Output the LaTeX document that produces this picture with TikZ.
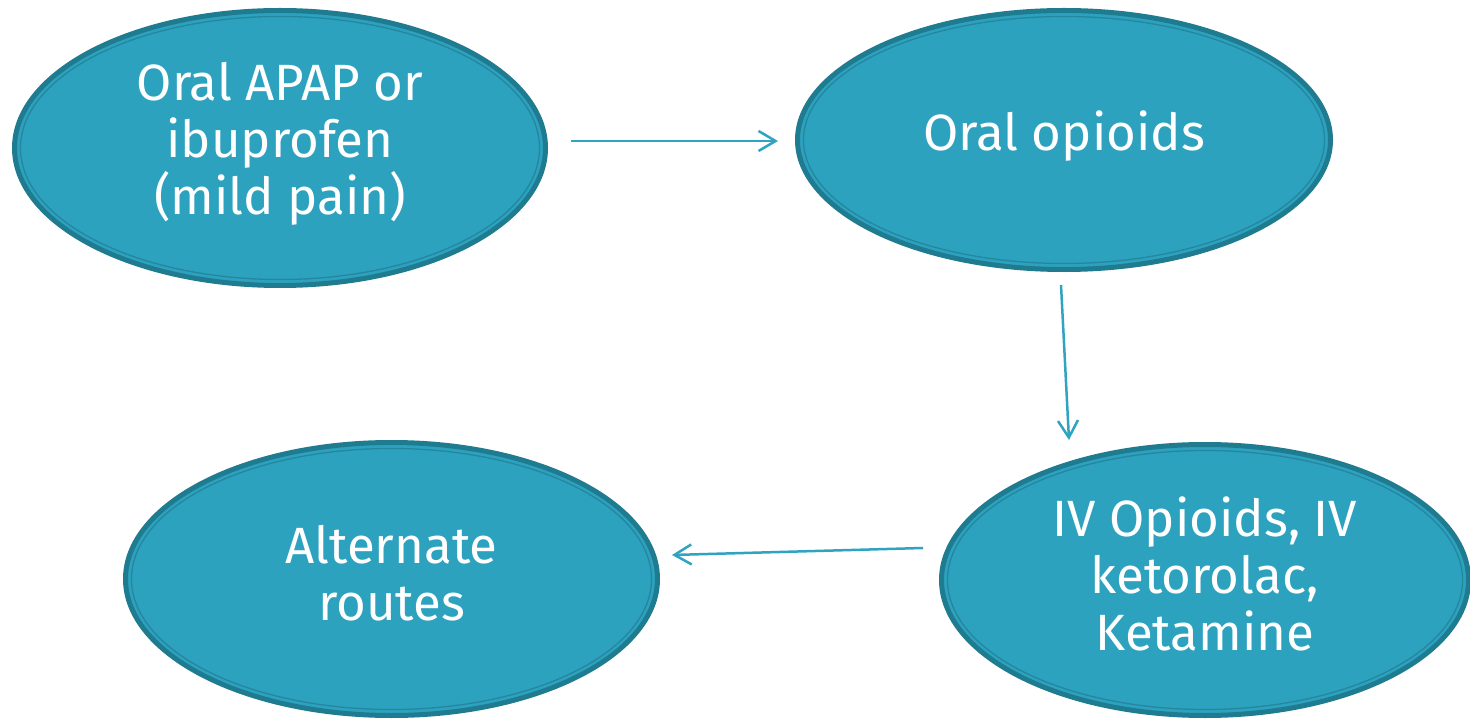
\documentclass[tikz,border=0pt]{standalone}
\usepackage{fontspec}
\setmainfont{Fira Sans}
\usetikzlibrary{shapes.geometric,arrows.meta}
\definecolor{ovalfill}{HTML}{2DA2BF}
\definecolor{ovaledge}{HTML}{1F7B90}
\definecolor{ovalinner}{HTML}{24869F}
\definecolor{arrowcol}{HTML}{2FA3C0}
\tikzset{
  oval/.style={ellipse, draw=ovaledge, line width=5pt, fill=ovalfill, inner sep=0pt},
  ovaltext/.style={text=white, align=center, inner sep=0pt, font=\fontsize{51}{57}\selectfont},
  innerring/.style={draw=ovalinner, line width=1.3pt},
  flow/.style={draw=arrowcol, line width=2.5pt, -{Straight Barb[length=17pt,width=20pt,line width=2.5pt]}}
}
\begin{document}
\begin{tikzpicture}[x=1pt,y=1pt]
\useasboundingbox (0,0) rectangle (1470,721);
% E1
\node[oval, minimum width=531pt, minimum height=275pt] (e1) at (280,573) {};
\draw[innerring] (e1.center) ellipse [x radius=259.5, y radius=131.5];
\node[ovaltext] (t1) at ([yshift=4pt]e1.center) {Oral APAP or\\ibuprofen\\(mild pain)};
% E2
\node[oval, minimum width=533pt, minimum height=259pt] (e2) at (1064,581) {};
\draw[innerring] (e2.center) ellipse [x radius=260.5, y radius=123.5];
\node[ovaltext] (t2) at ([yshift=4pt]e2.center) {Oral opioids};
% E3
\node[oval, minimum width=527pt, minimum height=271pt] (e3) at (1205,141) {};
\draw[innerring] (e3.center) ellipse [x radius=257.5, y radius=129.5];
\node[ovaltext] (t3) at ([yshift=6pt]e3.center) {IV Opioids, IV\\ketorolac,\\Ketamine};
% E4
\node[oval, minimum width=532pt, minimum height=273pt] (e4) at (391.5,142) {};
\draw[innerring] (e4.center) ellipse [x radius=260, y radius=130.5];
\node[ovaltext] (t4) at ([yshift=6pt]e4.center) {Alternate\\routes};
% arrows
\draw[flow] ([xshift=23pt,yshift=7pt]e1.east) -- ([xshift=-17pt,yshift=-1pt]e2.west);
\draw[flow] ([xshift=-3pt,yshift=-13pt]e2.south) -- ([xshift=-136pt,yshift=2pt]e3.north);
\draw[flow] ([xshift=-16pt,yshift=32pt]e3.west) -- ([xshift=12pt,yshift=24pt]e4.east);
\end{tikzpicture}
\end{document}
